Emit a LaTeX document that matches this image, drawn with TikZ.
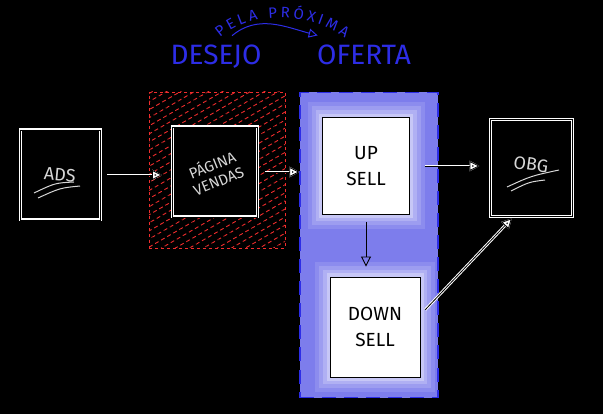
\documentclass[tikz,border=0pt]{standalone}
\usepackage{fontspec}
\setmainfont{Fira Sans}
\usetikzlibrary{positioning}
\usetikzlibrary{calc}
\usetikzlibrary{arrows.meta}
\usetikzlibrary{patterns.meta}
\usetikzlibrary{decorations.text}
\definecolor{inkblue}{RGB}{45,45,230}
\definecolor{zoneblue}{RGB}{125,125,236}
\definecolor{hatchred}{RGB}{240,45,45}
\definecolor{chalk}{RGB}{215,215,215}

\begin{document}
\begin{tikzpicture}[x=1pt, y=-1pt,
    ink/.style={draw=black, line width=0.8pt, preaction={draw=white, line width=2.8pt}},
    flow/.style={ink, -{Triangle[open, length=10pt, width=10pt]}},
    outbox/.style={preaction={fill=black}, preaction={draw=white, line width=3pt}, draw=black, line width=0.8pt,
        inner sep=0pt, align=center, text=chalk, font=\fontsize{18}{20}\selectfont},
    inbox/.style={draw=black, fill=white, line width=0.9pt, inner sep=0pt, align=center,
        preaction={draw=white, line width=30pt, draw opacity=0.12},
        preaction={draw=white, line width=22pt, draw opacity=0.15},
        preaction={draw=white, line width=14pt, draw opacity=0.2},
        preaction={draw=white, line width=7pt, draw opacity=0.3},
        font=\fontsize{19}{26}\selectfont},
    zonelabel/.style={text=inkblue, font=\fontsize{28}{28}\selectfont},
    chalkline/.style={draw=chalk, line width=1pt}]

    \fill[black] (0,0) rectangle (603,414);
    \useasboundingbox (0,0) rectangle (603,414);

    % zones
    \node (desejo) [minimum width=136pt, minimum height=156pt, draw=hatchred, dashed, line width=0.8pt,
        pattern={Lines[angle=30, distance=7pt, line width=0.9pt]}, pattern color=hatchred] at (217,170) {};
    \node (oferta) [minimum width=138pt, minimum height=305pt, fill=zoneblue, draw=inkblue,
        dash pattern=on 14pt off 8pt, line width=1.2pt] at (369,245) {};

    % boxes
    \node (ads) [outbox, minimum width=80pt, minimum height=90pt] at (60,175) {\rotatebox{-5}{ADS}};
    \node (pagina) [outbox, minimum width=85pt, minimum height=90pt] at (215,172) {};
    \node (paginatxt) [rotate=22, align=center, text=chalk, font=\fontsize{15}{17}\selectfont] at (pagina.center) {PÁGINA\\VENDAS};
    \node (upsell) [inbox, minimum width=87pt, minimum height=97pt] at (366,166) {UP\\SELL};
    \node (downsell) [inbox, minimum width=90pt, minimum height=100pt] at (375,327) {DOWN\\SELL};
    \node (obg) [outbox, minimum width=82pt, minimum height=97pt] at (531,168) {\raisebox{12pt}{\rotatebox{-8}{OBG}}};

    % underlines
    \draw[chalkline] ($(ads.center)+(-26,18)$) .. controls ($(ads.center)+(-5,8)$) .. ($(ads.center)+(14,7)$);
    \draw[chalkline] ($(ads.center)+(-22,23)$) .. controls ($(ads.center)+(0,13)$) .. ($(ads.center)+(20,11)$);
    \draw[chalkline] ($(obg.center)+(-24,19)$) .. controls ($(obg.center)+(0,8)$) .. ($(obg.center)+(28,2)$);
    \draw[chalkline] ($(obg.center)+(-20,23)$) .. controls ($(obg.center)+(-2,14)$) .. ($(obg.center)+(14,12)$);

    % labels
    \node (lbldesejo) [zonelabel] at (216,57) {DESEJO};
    \node (lbloferta) [zonelabel] at (364,55) {OFERTA};
    \path[decorate, decoration={text along path, text align={fit to path},
        text={|\fontsize{15}{15}\selectfont\color{inkblue}|PELA PRÓXIMA}}]
        (220,38) .. controls (250,12) and (305,10) .. (345,38);
    \draw[draw=inkblue, line width=1pt, -{Triangle[open, length=9pt, width=9pt]}]
        ([xshift=16pt, yshift=6pt]lbldesejo.north) to[out=40, in=165] ([xshift=4pt, yshift=6pt]lbloferta.north west);

    % connectors
    \draw[flow, shorten <=7pt, shorten >=10pt] (ads.east) -- (ads.east -| pagina.west);
    \draw[flow, shorten <=7pt] (pagina.east) -- (pagina.east -| oferta.west);
    \draw[draw=black, line width=0.9pt, -{Triangle[open, length=10pt, width=10pt]}, shorten <=7pt, shorten >=10pt] (upsell.south) -- (upsell.south |- downsell.north);
    \draw[flow, shorten <=15pt, shorten >=10pt] (upsell.east) -- (upsell.east -| obg.west);
    \draw[flow, shorten <=7pt, shorten >=2pt] (downsell.15) -- (obg.250);
\end{tikzpicture}
\end{document}
